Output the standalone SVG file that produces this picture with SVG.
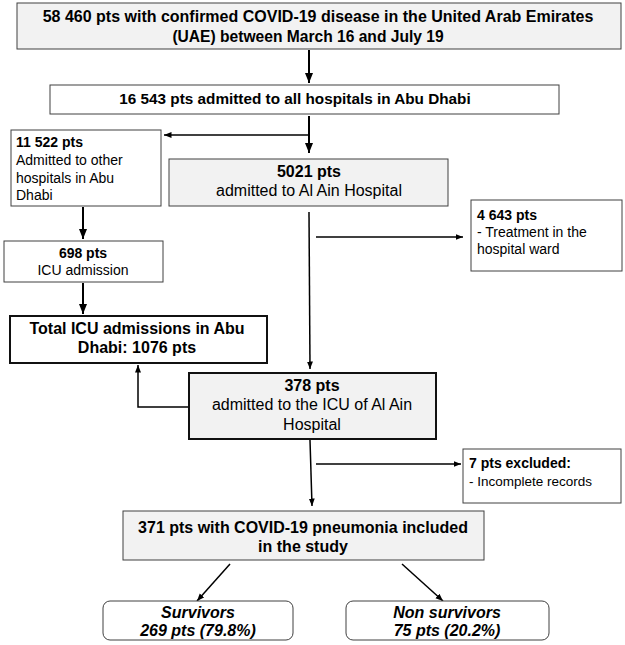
<svg xmlns="http://www.w3.org/2000/svg" width="625" height="645" viewBox="0 0 625 645">
<style>
.box{fill:#fff;stroke:#404040;stroke-width:1}
.gray{fill:#f2f2f2}
.thick{stroke:#111;stroke-width:2}
text{font-family:"Liberation Sans",Arial,sans-serif;font-size:16px;fill:#000}
.s{font-size:14px}
.b{font-weight:bold}
.bi{font-weight:bold;font-style:italic}
.c{text-anchor:middle}
.ln{stroke:#000;stroke-width:1.5;fill:none}
.ln2{stroke:#000;stroke-width:2;fill:none}
</style>
<defs>
<marker id="ah" viewBox="0 0 10 10" refX="10" refY="5" markerWidth="5" markerHeight="5" orient="auto" markerUnits="strokeWidth">
<path d="M0,1 L10,5 L0,9 Z" fill="#000"/>
</marker>
</defs>
<rect width="625" height="645" fill="#fff"/>
<g id="connectors">
<line class="ln2" x1="309" y1="50" x2="309" y2="83" marker-end="url(#ah)"/>
<line class="ln2" x1="309" y1="116" x2="309" y2="153" marker-end="url(#ah)"/>
<line class="ln" x1="309" y1="135" x2="164" y2="135" marker-end="url(#ah)"/>
<line class="ln2" x1="83" y1="207" x2="83" y2="239" marker-end="url(#ah)"/>
<line class="ln2" x1="83" y1="283" x2="83" y2="314" marker-end="url(#ah)"/>
<line class="ln" x1="309" y1="212" x2="310" y2="369" marker-end="url(#ah)"/>
<line class="ln" x1="316" y1="237" x2="463" y2="237" marker-end="url(#ah)"/>
<polyline class="ln" points="189,407 138,407 138,365" marker-end="url(#ah)"/>
<line class="ln" x1="310" y1="440" x2="312" y2="506" marker-end="url(#ah)"/>
<line class="ln" x1="316" y1="464" x2="461" y2="464" marker-end="url(#ah)"/>
<line class="ln" x1="230" y1="564" x2="197" y2="601" marker-end="url(#ah)"/>
<line class="ln" x1="402" y1="564" x2="443" y2="601" marker-end="url(#ah)"/>
</g>
<g id="n1">
<rect class="box gray" x="17" y="3" width="604" height="46"/>
<text class="b c" x="318" y="22">58 460 pts with confirmed COVID-19 disease in the United Arab Emirates</text>
<text class="b c" x="308" y="42" style="font-size:15.6px">(UAE) between March 16 and July 19</text>
</g>
<g id="n2">
<rect class="box" x="50" y="85" width="509" height="29"/>
<text class="b c" x="295" y="104" style="font-size:15.3px">16 543 pts admitted to all hospitals in Abu Dhabi</text>
</g>
<g id="n3">
<rect class="box gray" x="169" y="159" width="279" height="47"/>
<text class="b c" x="309" y="177">5021 pts</text>
<text class="c" x="309" y="196">admitted to Al Ain Hospital</text>
</g>
<g id="n4">
<rect class="box" x="11" y="130" width="150" height="76"/>
<text class="b s" x="16" y="147">11 522 pts</text>
<text class="s" x="16" y="165">Admitted to other</text>
<text class="s" x="16" y="183">hospitals in Abu</text>
<text class="s" x="16" y="200">Dhabi</text>
</g>
<g id="n5">
<rect class="box" x="4" y="241" width="159" height="41"/>
<text class="b c s" x="83" y="258">698 pts</text>
<text class="c s" x="83" y="275">ICU admission</text>
</g>
<g id="n6">
<rect class="box thick" x="10" y="316" width="257" height="47"/>
<text class="b c" x="137" y="334">Total ICU admissions in Abu</text>
<text class="b c" x="137" y="353">Dhabi: 1076 pts</text>
</g>
<g id="n8">
<rect class="box" x="471" y="200" width="151" height="71"/>
<text class="b s" x="477" y="220">4 643 pts</text>
<text class="s" x="477" y="237">- Treatment in the</text>
<text class="s" x="477" y="254">hospital ward</text>
</g>
<g id="n7">
<rect class="box gray thick" x="189" y="373" width="247" height="66"/>
<text class="b c" x="312" y="391">378 pts</text>
<text class="c" x="312" y="410">admitted to the ICU of Al Ain</text>
<text class="c" x="312" y="430">Hospital</text>
</g>
<g id="n10">
<rect class="box" x="463" y="449" width="158" height="54"/>
<text class="b s" x="469" y="468">7 pts excluded:</text>
<text class="s" x="469" y="486" style="font-size:13.5px">- Incomplete records</text>
</g>
<g id="n9">
<rect class="box gray" x="123" y="511" width="361" height="49"/>
<text class="b c" x="303" y="533">371 pts with COVID-19 pneumonia included</text>
<text class="b c" x="303" y="552">in the study</text>
</g>
<g id="n11">
<rect class="box" x="103" y="601" width="190" height="39" rx="7"/>
<text class="bi c" x="198" y="618">Survivors</text>
<text class="bi c" x="198" y="636">269 pts (79.8%)</text>
</g>
<g id="n12">
<rect class="box" x="346" y="601" width="203" height="39" rx="7"/>
<text class="bi c" x="447" y="618">Non survivors</text>
<text class="bi c" x="447" y="636">75 pts (20.2%)</text>
</g>
</svg>
